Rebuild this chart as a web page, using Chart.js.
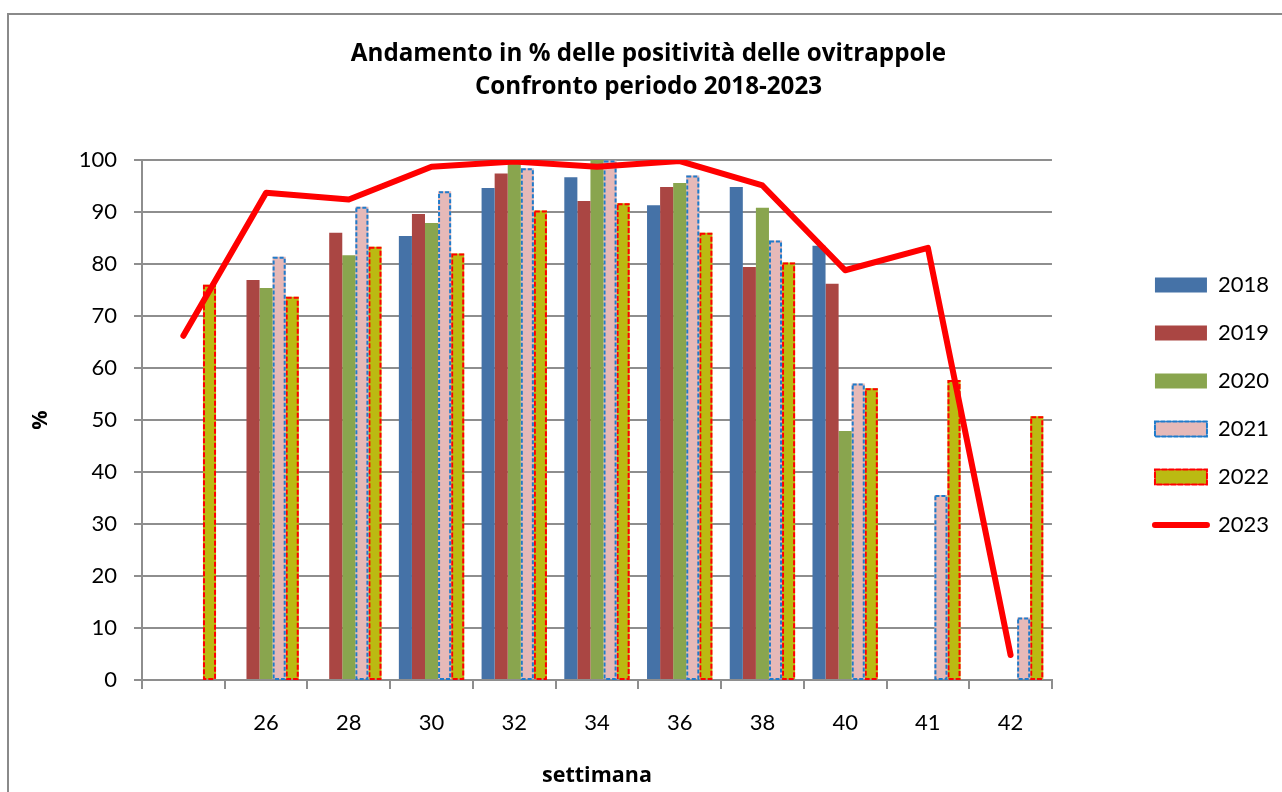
<!DOCTYPE html>
<html>
<head>
<meta charset="utf-8">
<script src="https://cdn.jsdelivr.net/npm/chart.js@4/dist/chart.umd.min.js"></script>
<style>
  body { margin: 0; background: #fff; }
  canvas { display: block; }
</style>
</head>
<body>
<canvas id="myChart" width="1282" height="792"></canvas>
<script>
const weeks = ["", "26", "28", "30", "32", "34", "36", "38", "40", "41", "42"];
const y2018 = [null, null, null, 85.4, 94.6, 96.7, 91.3, 94.8, 83.5, null, null];
const y2019 = [null, 76.9, 86.0, 89.6, 97.4, 92.1, 94.8, 79.4, 76.2, null, null];
const y2020 = [null, 75.4, 81.7, 87.9, 99.7, 100, 95.6, 90.8, 47.9, null, null];
const y2021 = [null, 81.4, 91.0, 94.0, 98.4, 99.9, 97.0, 84.5, 57.0, 35.6, 12.0];
const y2022 = [76.0, 73.7, 83.3, 82.0, 90.3, 91.7, 86.0, 80.3, 56.1, 57.7, 50.7];
const y2023 = [66.2, 93.7, 92.4, 98.7, 99.7, 98.7, 99.8, 95.1, 78.8, 83.1, 4.8];
const yTicks = [0, 10, 20, 30, 40, 50, 60, 70, 80, 90, 100];

const FONT = "Lato";
const BOLD = "'Open Sans'";
const GRID = "#8e8e8e";

// frame around the whole chart (only left and top edges are visible)
const framePlugin = {
  id: "frame",
  beforeDraw(chart) {
    const c = chart.ctx;
    c.save();
    c.strokeStyle = "#8a8a8a";
    c.lineWidth = 2;
    c.beginPath();
    c.moveTo(8, 800);
    c.lineTo(8, 14);
    c.lineTo(1290, 14);
    c.stroke();
    c.restore();
  }
};

// dashed outline around bars of the datasets that have one
const dashBorders = {
  id: "dashBorders",
  afterDatasetDraw(chart, args) {
    const ds = chart.data.datasets[args.index];
    if (!ds.dashColor) return;
    const c = chart.ctx;
    c.save();
    c.strokeStyle = ds.dashColor;
    c.lineWidth = 2;
    c.setLineDash(ds.dashPattern);
    args.meta.data.forEach((bar, i) => {
      if (ds.data[i] == null) return;
      const p = bar.getProps(["x", "y", "base", "width"], true);
      c.strokeRect(p.x - p.width / 2 + 1, p.y + 1, p.width - 2, p.base - p.y - 1);
    });
    c.restore();
  }
};

const ctx = document.getElementById("myChart").getContext("2d");
const myChart = new Chart(ctx, {
  data: {
    labels: weeks,
    datasets: [
      { type: "bar", label: "2018", data: y2018, backgroundColor: "#4572A7", order: 1 },
      { type: "bar", label: "2019", data: y2019, backgroundColor: "#AA4643", order: 1 },
      { type: "bar", label: "2020", data: y2020, backgroundColor: "#89A54E", order: 1 },
      { type: "bar", label: "2021", data: y2021, backgroundColor: "#E6B9B8", order: 1,
        dashColor: "#1F7BCB", dashPattern: [4, 2] },
      { type: "bar", label: "2022", data: y2022, backgroundColor: "#BBBA12", order: 1,
        dashColor: "#FF0000", dashPattern: [5, 2] },
      { type: "line", label: "2023", data: y2023, borderColor: "#FF0000", backgroundColor: "#FF0000",
        borderWidth: 6, pointRadius: 0, tension: 0, borderCapStyle: "round",
        borderJoinStyle: "round", order: 0 },
    ],
  },
  options: {
    responsive: false,
    animation: false,
    devicePixelRatio: 1,
    layout: { padding: { left: 18, right: 3, top: 0, bottom: 0 } },
    datasets: {
      bar: { categoryPercentage: 0.79, barPercentage: 1.0, borderWidth: 0 }
    },
    plugins: {
      tooltip: { enabled: false },
      title: {
        display: true,
        text: ["Andamento in % delle positività delle ovitrappole", "Confronto periodo 2018-2023"],
        color: "#000",
        font: { family: BOLD, size: 24.2, weight: "bold", lineHeight: 33 / 24.2 },
        padding: { top: 38, bottom: 56 },
      },
      legend: {
        position: "right",
        align: "start",
        fullSize: false,
        title: { display: true, text: " ", font: { size: 10 }, padding: { top: 76, bottom: 0 } },
        labels: {
          color: "#000",
          font: { family: FONT, size: 22 },
          usePointStyle: true,
          pointStyleWidth: 52,
          boxWidth: 52,
          boxHeight: 15,
          padding: 26,
          generateLabels: (chart) => chart.data.datasets.map((ds, i) => ({
            text: ds.label,
            datasetIndex: i,
            hidden: !chart.isDatasetVisible(i),
            fontColor: "#000",
            fillStyle: ds.type === "line" ? ds.borderColor : ds.backgroundColor,
            strokeStyle: ds.type === "line" ? ds.borderColor : (ds.dashColor || ds.backgroundColor),
            lineWidth: ds.type === "line" ? 6 : (ds.dashColor ? 2 : 0),
            lineDash: ds.dashColor ? ds.dashPattern : [],
            lineCap: "round",
            pointStyle: ds.type === "line" ? "line" : "rect",
            rotation: 0,
          })),
        },
      },
    },
    scales: {
      x: {
        grid: { display: true, drawOnChartArea: false, drawTicks: true, tickLength: 9, color: GRID, lineWidth: 2 },
        border: { color: GRID, width: 2 },
        ticks: { color: "#000", font: { family: FONT, size: 22 }, padding: 21, maxRotation: 0, autoSkip: false },
        title: { display: true, text: "settimana", color: "#000",
          font: { family: BOLD, size: 21.5, weight: "bold" }, padding: { top: 0, bottom: 3 } },
        afterFit: (s) => { s.height = 112; },
      },
      y: {
        min: 0,
        max: 100,
        afterBuildTicks: (s) => { s.ticks = yTicks.map((v) => ({ value: v })); },
        grid: { color: GRID, lineWidth: 2, tickLength: 8 },
        border: { color: GRID, width: 2 },
        ticks: { color: "#000", font: { family: FONT, size: 22 }, padding: 17 },
        title: { display: true, text: "%", color: "#000",
          font: { family: BOLD, size: 21.5, weight: "bold" }, padding: { top: 10, bottom: 0 } },
        afterFit: (s) => { s.width = 124; },
      },
      gap: {
        type: "linear",
        position: "right",
        display: true,
        grid: { display: false },
        border: { display: false },
        ticks: { display: false },
        afterFit: (s) => { s.width = 77; },
      },
    },
  },
  plugins: [framePlugin, dashBorders],
});
</script>
</body>
</html>
